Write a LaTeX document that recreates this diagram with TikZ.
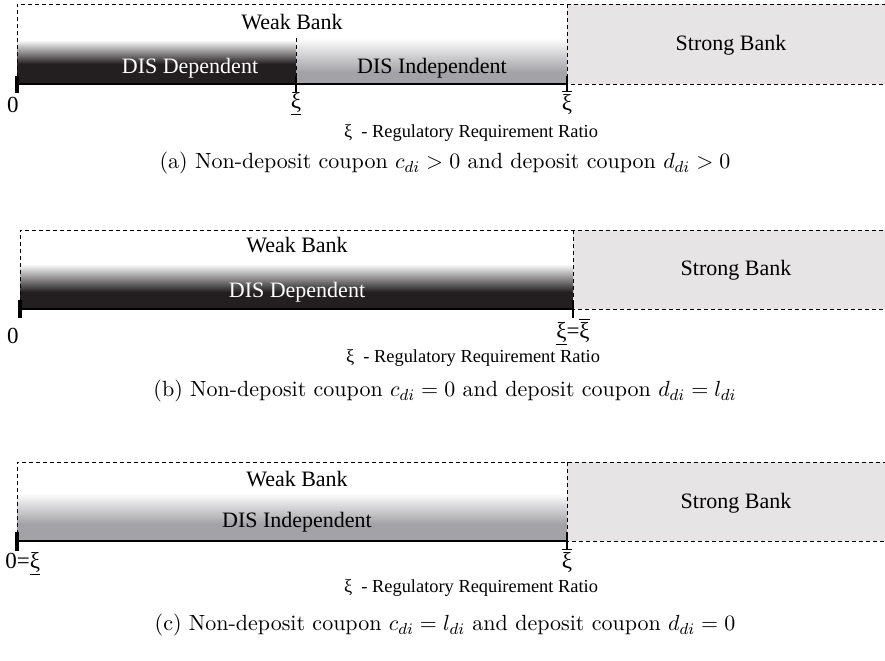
\documentclass[tikz,border=0pt]{standalone}
\usepackage{fontspec}
\setmainfont{Latin Modern Roman}
\newfontfamily\lab{Liberation Serif}
\definecolor{darkband}{HTML}{231F20}
\definecolor{grayband}{HTML}{A3A3A7}
\definecolor{strongfill}{HTML}{E6E4E5}
\tikzset{
  dashln/.style={dash pattern=on 2pt off 1.5pt, line width=0.5pt},
  axisln/.style={line width=1pt},
  tickmain/.style={line width=2pt},
  ticksm/.style={line width=0.9pt},
  lbl/.style={font=\lab\fontsize{11}{12}\selectfont, inner sep=0pt},
  lblw/.style={lbl, text=white},
  ticklbl/.style={font=\lab\fontsize{11.5}{12}\selectfont, inner sep=0pt},
  sublbl/.style={font=\lab\fontsize{9.2}{10}\selectfont, inner sep=0pt},
  captxt/.style={font=\fontsize{11}{13}\selectfont, inner sep=0pt},
}
\newcommand{\xilow}{\underline{ξ}}
\newcommand{\xihigh}{$\overline{\hbox{ξ}}$}
\begin{document}
\begin{tikzpicture}[x=0.5pt,y=-0.5pt]
\useasboundingbox (0,0) rectangle (885,660);
% ================= panel (a)
\fill[strongfill] (567,4) rectangle (885,84);
\shade[top color=white, bottom color=darkband] (17,40) rectangle (296,64);
\fill[darkband] (17,64) rectangle (296,84);
\shade[top color=white, bottom color=grayband] (296,38) rectangle (567,72);
\fill[grayband] (296,72) rectangle (567,84);
\draw[dashln] (17,84) -- (17,4) -- (885,4);
\draw[dashln] (567,4) -- (567,84) -- (885,84);
\draw[dashln] (296,38) -- (296,84);
\coordinate (a0) at (17,84);
\coordinate (a1) at (296,84);
\coordinate (a2) at (567,84);
\draw[axisln] (a0) -- (a2);
\draw[tickmain] (17,76) -- (17,93);
\draw[ticksm] (296,76) -- (296,92);
\draw[ticksm] (567,76) -- (567,92);
\node[lbl] (aweak) at (292,22) {Weak Bank};
\node[lbl] (astrong) at (731,45) {Strong Bank};
\node[lblw] (adep) at (190,68) {DIS Dependent};
\node[lbl] (aind) at (432,68) {DIS Independent};
\node[ticklbl] (az) at (13,105) {0};
\node[ticklbl] (axl) at (296,104) {\xilow};
\node[ticklbl] (axh) at (567,102) {\xihigh};
\node[sublbl] (asub) at (471,133) {ξ\ \ - Regulatory Requirement Ratio};
\node[captxt] (acap) at (445,163) {(a)\ Non-deposit coupon $c_{di}>0$ and deposit coupon $d_{di}>0$};
% ================= panel (b)
\fill[strongfill] (573,230) rectangle (885,309);
\shade[top color=white, bottom color=darkband] (20,264) rectangle (573,292);
\fill[darkband] (20,292) rectangle (573,309);
\draw[dashln] (20,309) -- (20,230) -- (885,230);
\draw[dashln] (573,230) -- (573,309) -- (885,309);
\coordinate (b0) at (20,309);
\coordinate (b1) at (573,309);
\draw[axisln] (b0) -- (b1);
\draw[tickmain] (20,300) -- (20,318);
\draw[ticksm] (573,300) -- (573,318);
\node[lbl] (bweak) at (297,245) {Weak Bank};
\node[lbl] (bstrong) at (736,270) {Strong Bank};
\node[lblw] (bdep) at (297,292) {DIS Dependent};
\node[ticklbl] (bz) at (13,336) {0};
\node[ticklbl] (bx) at (573,332) {\xilow=\xihigh};
\node[sublbl] (bsub) at (473,358) {ξ\ \ - Regulatory Requirement Ratio};
\node[captxt] (bcap) at (445,391) {(b)\ Non-deposit coupon $c_{di}=0$ and deposit coupon $d_{di}=l_{di}$};
% ================= panel (c)
\fill[strongfill] (567,462) rectangle (885,541);
\shade[top color=white, bottom color=grayband] (17,493) rectangle (567,524);
\fill[grayband] (17,524) rectangle (567,541);
\draw[dashln] (17,541) -- (17,462) -- (885,462);
\draw[dashln] (567,462) -- (567,541) -- (885,541);
\coordinate (c0) at (17,541);
\coordinate (c1) at (567,541);
\draw[axisln] (c0) -- (c1);
\draw[tickmain] (17,532) -- (17,551);
\draw[ticksm] (567,532) -- (567,549);
\node[lbl] (cweak) at (297,479) {Weak Bank};
\node[lbl] (cstrong) at (736,503) {Strong Bank};
\node[lbl] (cind) at (297,522) {DIS Independent};
\node[ticklbl, anchor=west] (cz) at (5,564) {0=\xilow};
\node[ticklbl] (cx) at (567,560) {\xihigh};
\node[sublbl] (csub) at (471,588) {ξ\ \ - Regulatory Requirement Ratio};
\node[captxt] (ccap) at (445,625) {(c)\ Non-deposit coupon $c_{di}=l_{di}$ and deposit coupon $d_{di}=0$};
\end{tikzpicture}
\end{document}
